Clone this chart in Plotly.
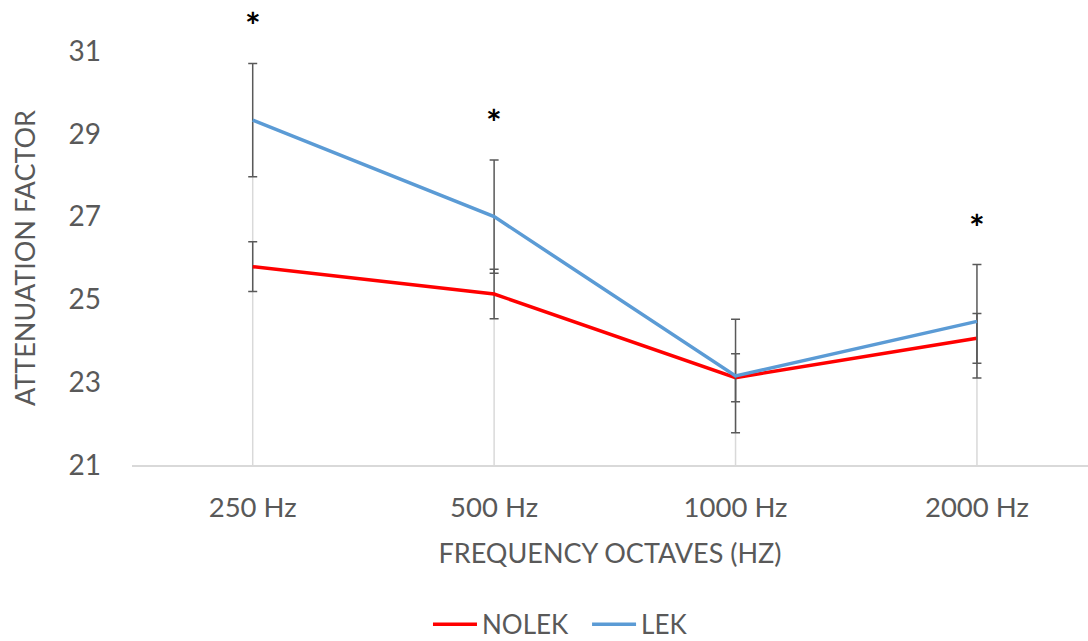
import plotly.graph_objects as go

categories = ["250 Hz", "500 Hz", "1000 Hz", "2000 Hz"]
nolek = [25.79, 25.13, 23.11, 24.06]
nolek_err = [0.60, 0.60, 0.58, 0.60]
lek = [29.33, 27.00, 23.15, 24.47]
lek_err = [1.37, 1.37, 1.37, 1.37]
star_y = [31.75, 29.42, None, 26.87]
y_ticks = [21, 23, 25, 27, 29, 31]

FONT = "Lato, Open Sans, sans-serif"
GRAY = "#595959"
Y0, Y1 = y_ticks[0], y_ticks[-1]

fig = go.Figure()

# drop lines
dx, dy = [], []
for c, a, b in zip(categories, nolek, lek):
    dx += [c, c, None]
    dy += [Y0, max(a, b), None]
fig.add_trace(go.Scatter(x=dx, y=dy, mode="lines", line=dict(color="#D9D9D9", width=1.5),
                         showlegend=False, hoverinfo="skip"))

fig.add_trace(go.Scatter(x=categories, y=nolek, mode="lines", name="NOLEK", legend="legend",
                         line=dict(color="#FF0000", width=3.5),
                         error_y=dict(type="data", array=nolek_err, color=GRAY, thickness=1.5, width=4.5)))
fig.add_trace(go.Scatter(x=categories, y=lek, mode="lines", name="LEK", legend="legend2",
                         line=dict(color="#5B9BD5", width=3.5),
                         error_y=dict(type="data", array=lek_err, color=GRAY, thickness=1.5, width=4.5)))

for i, s in enumerate(star_y):
    if s is not None:
        fig.add_annotation(x=i, xref="x", y=(s - Y0) / (Y1 - Y0), yref="paper",
                           text="<b>*</b>", showarrow=False, yanchor="middle",
                           yshift=-5, font=dict(size=37, color="#000000", family=FONT))

leg_common = dict(orientation="h", xanchor="left", y=-0.385, yanchor="middle",
                  font=dict(size=26, color=GRAY), itemwidth=44, bgcolor="rgba(0,0,0,0)")

fig.update_layout(
    width=1088, height=641,
    margin=dict(l=132, r=0, t=51, b=176, autoexpand=False),
    plot_bgcolor="white", paper_bgcolor="white",
    font=dict(family=FONT, color=GRAY, size=26),
    legend=dict(x=0.3096, **leg_common),
    legend2=dict(x=0.476, **leg_common),
    xaxis=dict(range=[-0.5, 3.46], showgrid=False, showline=True, linecolor="#D9D9D9",
               linewidth=1.5, ticks="", tickfont=dict(size=27.5, color=GRAY), ticklabelstandoff=17,
               automargin=False,
               title=dict(text="FREQUENCY OCTAVES (HZ)", font=dict(size=27, color=GRAY), standoff=22)),
    yaxis=dict(range=[Y0, Y1], tickvals=y_ticks, showgrid=False, zeroline=False, showline=False,
               ticks="", tickfont=dict(size=28, color=GRAY), ticklabelstandoff=30, automargin=False,
               title=dict(text="ATTENUATION FACTOR", font=dict(size=27, color=GRAY), standoff=25)),
)

fig.write_html("out.html", config={"displayModeBar": False},
               post_script="document.body.style.margin='0';document.body.style.overflow='hidden';")
